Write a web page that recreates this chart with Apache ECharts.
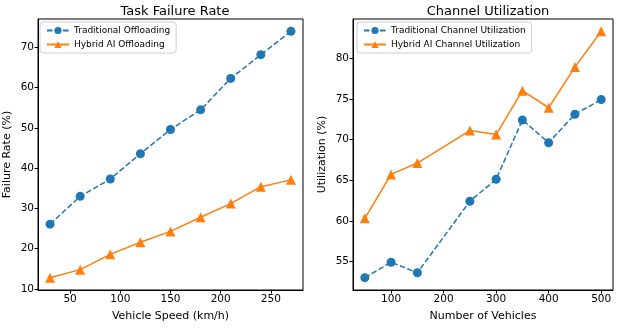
<!DOCTYPE html>
<html>
<head>
<meta charset="utf-8">
<script src="https://cdn.jsdelivr.net/npm/echarts@6/dist/echarts.min.js"></script>
<style>
  html, body { margin: 0; padding: 0; background: #fff; }
  #main { width: 620px; height: 328px; }
</style>
</head>
<body>
<div id="main"></div>
<script>
// left panel: failure rate vs speed
const speeds = [30, 60, 90, 120, 150, 180, 210, 240, 270];
const tradFailure = [26.1, 33.0, 37.3, 43.6, 49.6, 54.5, 62.3, 68.2, 74.0];
const hybridFailure = [12.8, 14.8, 18.6, 21.6, 24.3, 27.8, 31.2, 35.4, 37.1];
const speedTicks = [50, 100, 150, 200, 250];
const failureTicks = [10, 20, 30, 40, 50, 60, 70];

// right panel: channel utilization vs vehicles
const vehicles = [50, 100, 150, 250, 300, 350, 400, 450, 500];
const tradUtil = [53.0, 54.9, 53.6, 62.4, 65.1, 72.4, 69.6, 73.1, 74.9];
const hybridUtil = [60.3, 65.7, 67.1, 71.1, 70.6, 76.0, 73.9, 78.9, 83.3];
const vehicleTicks = [100, 200, 300, 400, 500];
const utilTicks = [55, 60, 65, 70, 75, 80];

const BLUE = "#1f77b4";
const ORANGE = "#ff7f0e";
const FONT = "DejaVu Sans";

function pairs(xs, ys) {
  return xs.map((x, i) => [x, ys[i]]);
}

// matplotlib-like 5% padding around data
function pad(vals, frac) {
  let lo = Math.min(...vals), hi = Math.max(...vals);
  let d = (hi - lo) * frac;
  return [lo - d, hi + d];
}

function xAxisFor(idx, name, range, ticks) {
  return {
    type: "value",
    gridIndex: idx,
    min: range[0],
    max: range[1],
    name: name,
    nameLocation: "middle",
    nameGap: 21,
    nameTextStyle: { fontFamily: FONT, fontSize: 11, color: "#000" },
    axisLine: { lineStyle: { color: "#000", width: 1 } },
    axisTick: { customValues: ticks, length: 3.5, inside: false, lineStyle: { color: "#000" } },
    axisLabel: { customValues: ticks, fontFamily: FONT, fontSize: 10.5, color: "#000", margin: 4 },
    splitLine: { show: false },
  };
}

function yAxisFor(idx, name, range, ticks) {
  return {
    type: "value",
    gridIndex: idx,
    min: range[0],
    max: range[1],
    name: name,
    nameLocation: "middle",
    nameGap: 25,
    nameTextStyle: { fontFamily: FONT, fontSize: 11, color: "#000" },
    axisLine: { show: true, lineStyle: { color: "#000", width: 1 } },
    axisTick: { show: true, customValues: ticks, length: 3.5, lineStyle: { color: "#000" } },
    axisLabel: { customValues: ticks, fontFamily: FONT, fontSize: 10.5, color: "#000", margin: 4 },
    splitLine: { show: false },
  };
}

function legendFor(left, names) {
  return {
    data: names,
    orient: "vertical",
    left: left,
    top: 22,
    padding: [4, 6],
    itemGap: 5,
    itemWidth: 22,
    itemHeight: 9,
    borderColor: "#ccc",
    borderWidth: 1,
    borderRadius: 3,
    backgroundColor: "rgba(255,255,255,0.8)",
    textStyle: { fontFamily: FONT, fontSize: 9, color: "#000" },
  };
}

function lineSeries(name, data, idx, color, symbol, dashed) {
  return {
    name: name,
    type: "line",
    xAxisIndex: idx,
    yAxisIndex: idx,
    data: data,
    symbol: symbol,
    symbolSize: symbol === "triangle" ? 10 : 9,
    color: color,
    lineStyle: { color: color, width: 1.5, type: dashed ? [5.5, 2.5] : "solid" },
    itemStyle: { color: color },
    animation: false,
  };
}

var myChart = echarts.init(document.getElementById("main"), null, { renderer: "canvas" });

let option = {
  backgroundColor: "#fff",
  animation: false,
  title: [
    {
      text: "Task Failure Rate",
      left: 170,
      top: 0,
      textAlign: "center",
      textStyle: { fontFamily: FONT, fontSize: 13, fontWeight: "normal", color: "#000" },
    },
    {
      text: "Channel Utilization",
      left: 483,
      top: 0,
      textAlign: "center",
      textStyle: { fontFamily: FONT, fontSize: 13, fontWeight: "normal", color: "#000" },
    },
  ],
  grid: [
    { left: 38, top: 19, width: 265, height: 271, show: true, borderColor: "#000", borderWidth: 1, backgroundColor: "transparent" },
    { left: 353, top: 19, width: 260, height: 271, show: true, borderColor: "#000", borderWidth: 1, backgroundColor: "transparent" },
  ],
  legend: [
    legendFor(40, ["Traditional Offloading", "Hybrid AI Offloading"]),
    legendFor(357, ["Traditional Channel Utilization", "Hybrid AI Channel Utilization"]),
  ],
  xAxis: [
    xAxisFor(0, "Vehicle Speed (km/h)", pad(speeds, 0.05), speedTicks),
    xAxisFor(1, "Number of Vehicles", pad(vehicles, 0.05), vehicleTicks),
  ],
  yAxis: [
    yAxisFor(0, "Failure Rate (%)", pad(tradFailure.concat(hybridFailure), 0.05), failureTicks),
    yAxisFor(1, "Utilization (%)", pad(tradUtil.concat(hybridUtil), 0.05), utilTicks),
  ],
  series: [
    lineSeries("Traditional Offloading", pairs(speeds, tradFailure), 0, BLUE, "circle", true),
    lineSeries("Hybrid AI Offloading", pairs(speeds, hybridFailure), 0, ORANGE, "triangle", false),
    lineSeries("Traditional Channel Utilization", pairs(vehicles, tradUtil), 1, BLUE, "circle", true),
    lineSeries("Hybrid AI Channel Utilization", pairs(vehicles, hybridUtil), 1, ORANGE, "triangle", false),
  ],
};

myChart.setOption(option);
</script>
</body>
</html>
